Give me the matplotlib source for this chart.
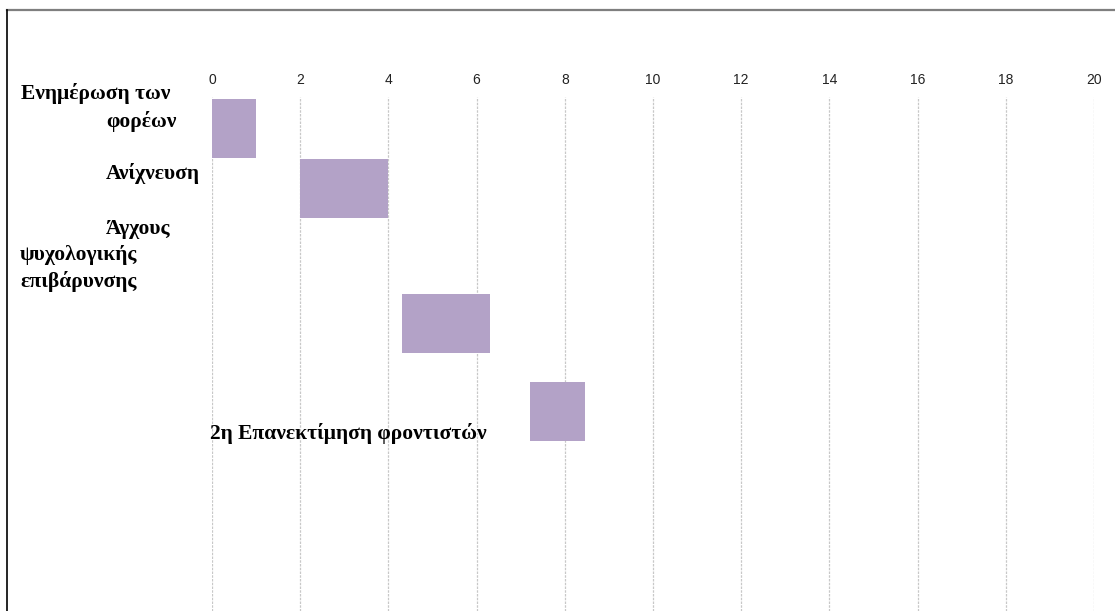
import matplotlib
matplotlib.use("Agg")
import matplotlib.pyplot as plt
from matplotlib.lines import Line2D

# tasks (start, duration) in weeks
tasks = ["Ενημέρωση των φορέων", "Ανίχνευση", "Άγχους ψυχολογικής επιβάρυνσης",
         "2η Επανεκτίμηση φροντιστών"]
starts = [0, 2, 4.3, 7.2]
durations = [1, 2, 2, 1.25]
ticks = list(range(0, 21, 2))

# row centres (px below axes top), rows are not evenly spaced in the original
row_pos = [31, 91.5, 226.5, 314.5]
bar_h = 59

W, H = 1115, 611
fig = plt.figure(figsize=(W / 100, H / 100), dpi=100)
ax = fig.add_axes([212 / W, 0, 882 / W, 514 / H])

ax.barh(row_pos, durations, left=starts, height=bar_h, color="#B3A2C7", zorder=3)

ax.set_xlim(0, 20)
ax.set_ylim(514, 0)
ax.set_xticks(ticks)
ax.xaxis.tick_top()
ax.tick_params(axis="x", length=0, pad=7, labelsize=10, labelcolor="#222222")
for lab in ax.get_xticklabels():
    lab.set_fontfamily("Liberation Sans")
ax.set_yticks([])
ax.grid(axis="x", color="#c8c8c8", linestyle=(0, (2, 1)), linewidth=0.9, zorder=0)
for s in ax.spines.values():
    s.set_visible(False)

# category labels, placed like the wrapped text of the original
lbl = dict(fontfamily="Liberation Serif", fontweight="bold", fontsize=15.5,
           va="center", ha="left", color="black")
def put(x, y, s):
    fig.text(x / W, 1 - y / H, s, **lbl)

put(21, 94, "Ενημέρωση των")
put(106, 121, "φορέων")
put(106, 174, "Ανίχνευση")
put(106, 229, "Άγχους")
put(20, 255, "ψυχολογικής")
put(20, 281, "επιβάρυνσης")
put(210, 434, tasks[3])

# outer frame
fig.add_artist(Line2D([7 / W, 1], [1 - 10 / H, 1 - 10 / H], color="#7f7f7f", linewidth=1.6))
fig.add_artist(Line2D([7 / W, 7 / W], [0, 1 - 10 / H], color="black", linewidth=1.2))

fig.savefig("out.png", dpi=100, facecolor="white")
